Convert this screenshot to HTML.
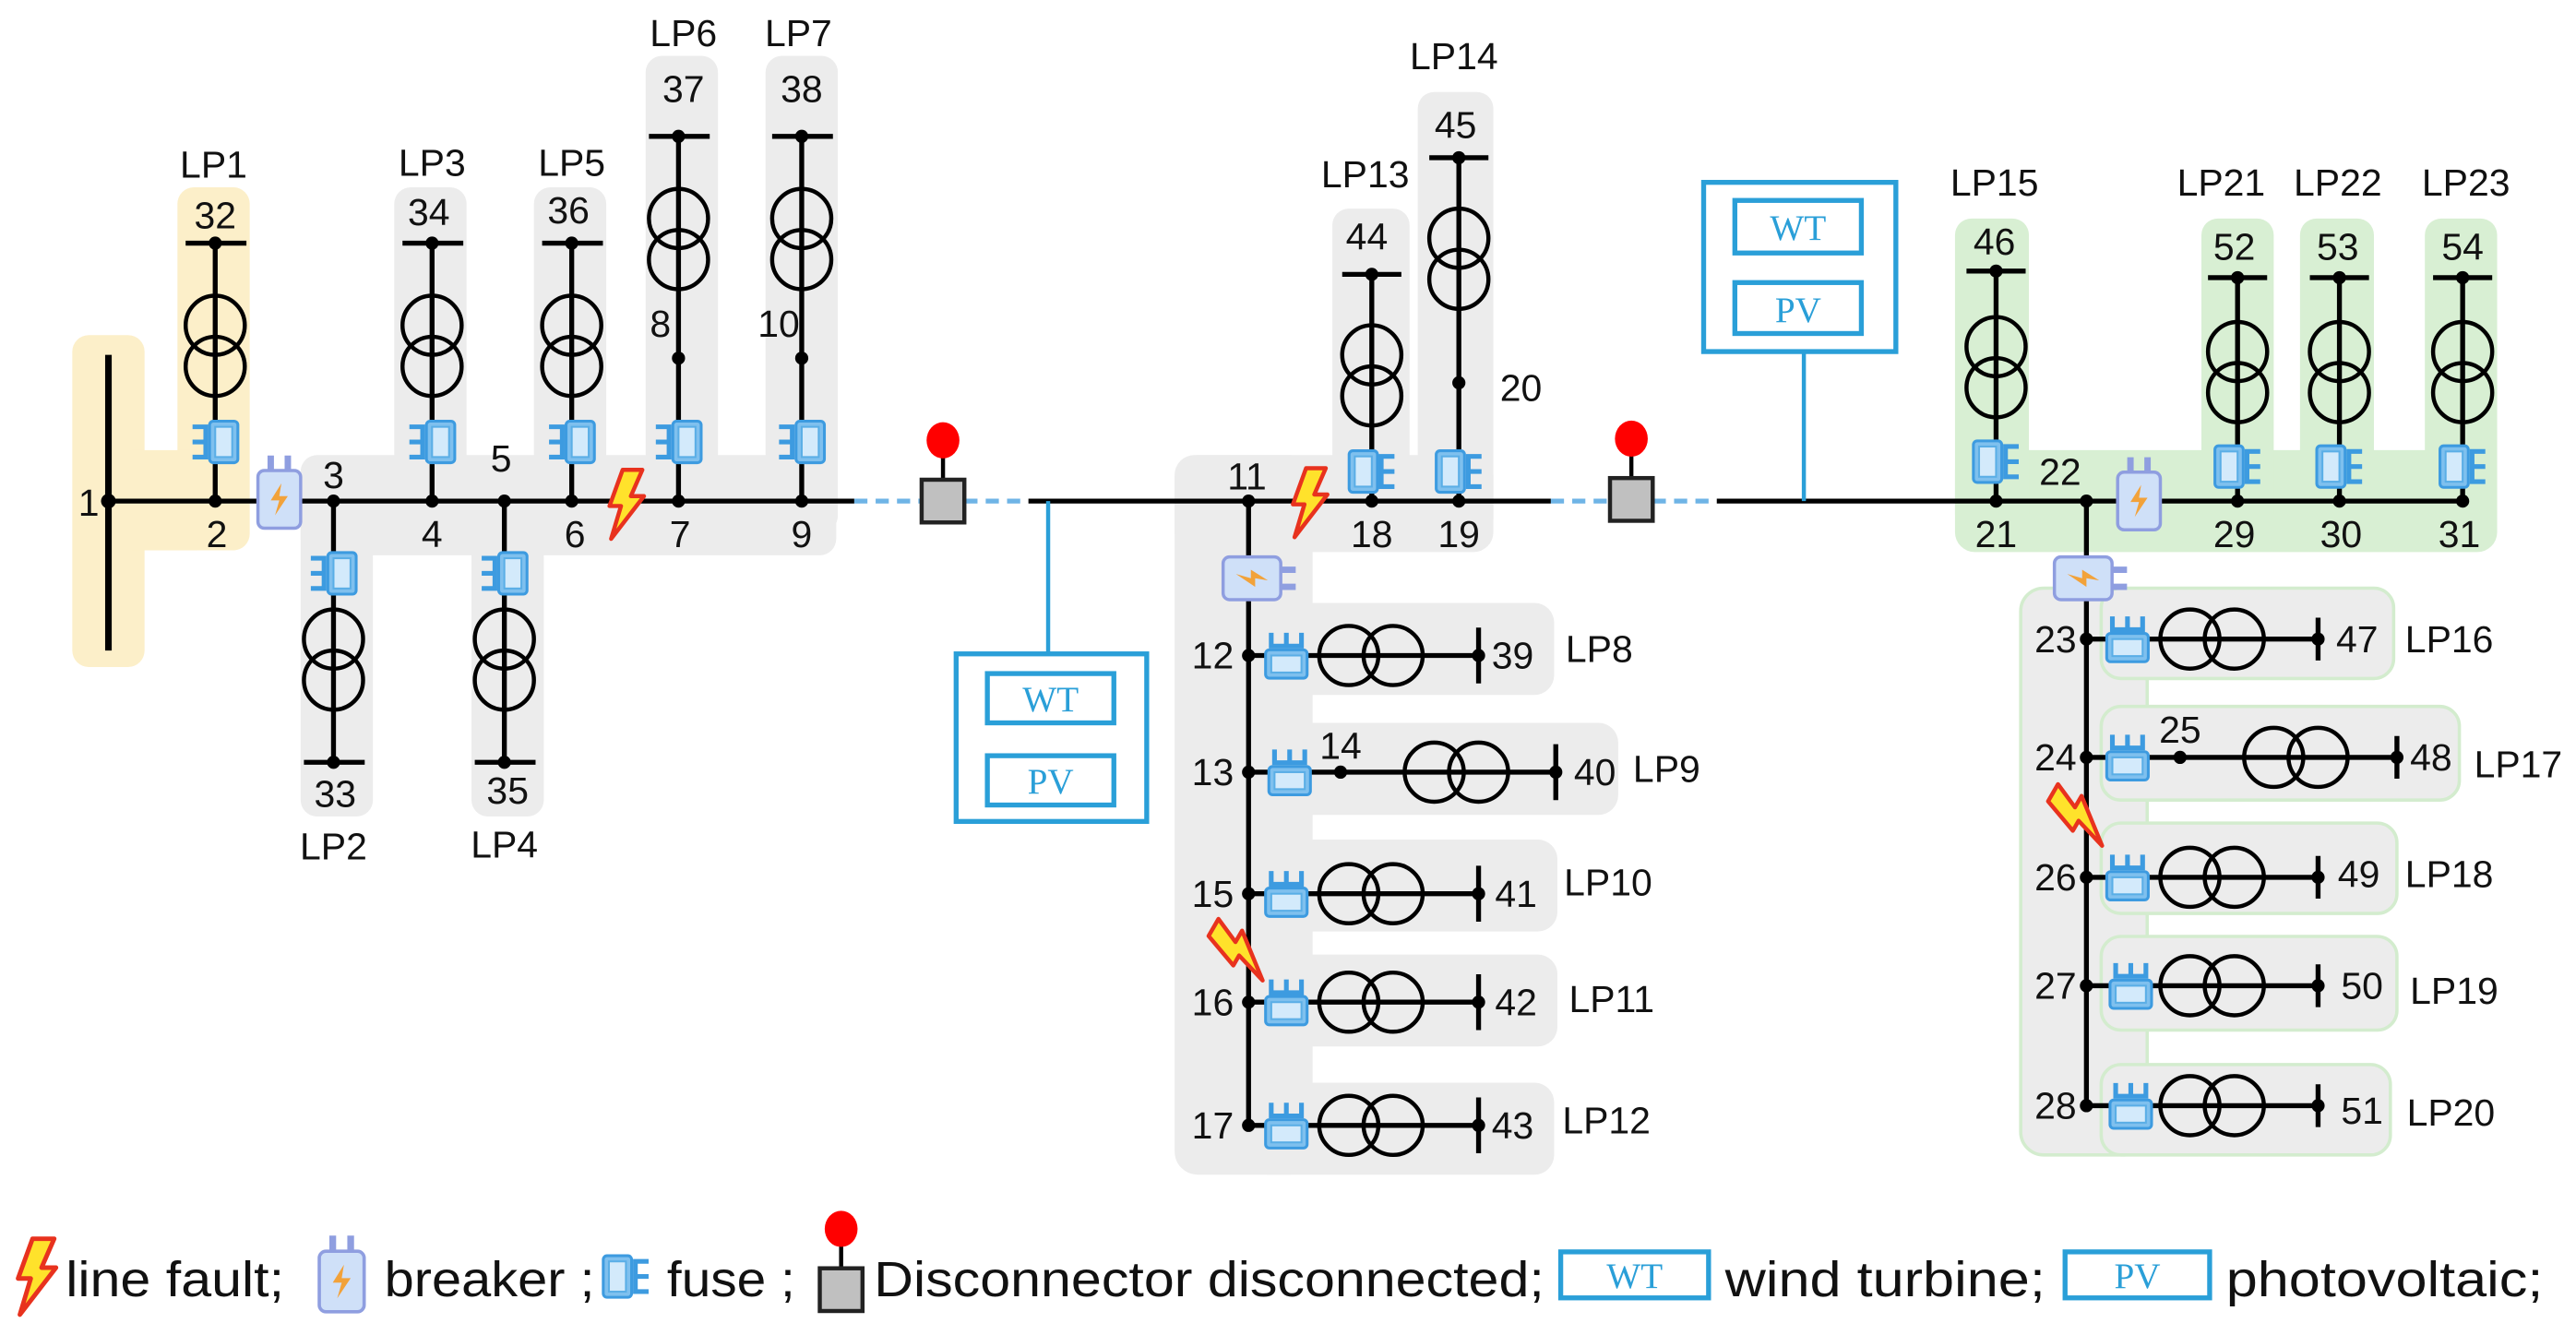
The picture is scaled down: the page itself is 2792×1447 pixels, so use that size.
<!DOCTYPE html>
<html><head><meta charset="utf-8"><style>
html,body{margin:0;padding:0;background:#fff;}
svg{display:block;}
text{font-family:"Liberation Sans",sans-serif;fill:#111;}
.n{font-size:23px;}
.lg{font-size:30px;}
.bl{fill:none;stroke:#2a9fd8;stroke-width:3;}
.wt{font-family:"Liberation Serif",serif;fill:#2a9fd8;font-size:22px;}
</style></head><body>
<svg width="2792" height="1447" viewBox="0 0 1568 812.6" preserveAspectRatio="none" xmlns="http://www.w3.org/2000/svg">
<defs>
<g id="tv" fill="none" stroke="#000" stroke-width="2.5"><circle cx="0" cy="0" r="18"/><circle cx="0" cy="25" r="18"/></g>
<g id="th" fill="none" stroke="#000" stroke-width="2.5"><circle cx="0" cy="0" r="18"/><circle cx="27" cy="0" r="18"/></g>
<g id="fu0"><rect x="-3" y="-11" width="15" height="22" rx="2" fill="#7fc0ee" stroke="#3d9be0" stroke-width="1.5"/><rect x="0" y="-8" width="9" height="16" fill="#d3eafb" stroke="#5aaee6" stroke-width="1"/><path d="M-12,-8 h7 v16 h-7 M-12,0 h7" fill="none" stroke="#3d9be0" stroke-width="2.5"/></g>
<g id="fu"><g transform="scale(1.15)"><use href="#fu0"/></g></g>
<g id="br0"><path d="M-4,-12 v-7 M4,-12 v-7" stroke="#8f9ee0" stroke-width="3"/><rect x="-10" y="-12" width="20" height="27" rx="3" fill="#cfe0f8" stroke="#8f9ee0" stroke-width="1.5"/><path d="M1,-6 L-4,2 L0,2 L-2,9 L4,0 L0,0 Z" fill="#f2a23a"/></g>
<g id="br"><g transform="scale(1.3)"><use href="#br0"/></g></g>
<g id="lt"><path d="M-2,-20 L10,-20 L3,-4 L11,-4 L-9,22 L-3,2 L-10,2 Z" fill="#ffe22b" stroke="#e8321e" stroke-width="2.5" stroke-linejoin="round"/></g>
<g id="dc"><line x1="0" y1="-28" x2="0" y2="-13" stroke="#000" stroke-width="2.5"/><ellipse cx="0" cy="-37" rx="10" ry="11" fill="#f00"/><rect x="-13" y="-13" width="26" height="26" fill="#c0c0c0" stroke="#222" stroke-width="2.5"/></g>
</defs>

<g fill="#fcefc9">
<rect x="44" y="204" width="44" height="202" rx="10"/>
<rect x="108" y="114" width="44" height="221" rx="10"/>
<rect x="80" y="274" width="40" height="61"/>
</g>
<g fill="#ececec">
<rect x="183" y="277" width="326" height="61" rx="10"/>
<rect x="240" y="114" width="44" height="200" rx="10"/>
<rect x="325" y="114" width="44" height="200" rx="10"/>
<rect x="393" y="34" width="44" height="290" rx="10"/>
<rect x="466" y="34" width="44" height="290" rx="10"/>
<rect x="183" y="300" width="44" height="197" rx="10"/>
<rect x="287" y="300" width="44" height="197" rx="10"/>
</g>
<g fill="#ececec">
<rect x="715" y="277" width="84" height="438" rx="14"/>
<rect x="715" y="277" width="194" height="59" rx="12"/>
<rect x="811" y="127" width="47" height="200" rx="10"/>
<rect x="863" y="56" width="46" height="270" rx="10"/>
<rect x="760" y="367" width="186" height="56" rx="12"/>
<rect x="760" y="440" width="225" height="56" rx="12"/>
<rect x="760" y="511" width="188" height="56" rx="12"/>
<rect x="760" y="581" width="188" height="56" rx="12"/>
<rect x="760" y="659" width="186" height="56" rx="12"/>
</g>
<g fill="#d8efd3">
<rect x="1190" y="274" width="330" height="62" rx="12"/>
<rect x="1190" y="133" width="45" height="190" rx="10"/>
<rect x="1340" y="133" width="44" height="190" rx="10"/>
<rect x="1400" y="133" width="45" height="190" rx="10"/>
<rect x="1476" y="133" width="44" height="190" rx="10"/>
</g>
<g fill="#ececec" stroke="#d3ecce" stroke-width="2">
<rect x="1230" y="358" width="77" height="345" rx="14"/>
<rect x="1279" y="358" width="178" height="55" rx="12"/>
<rect x="1279" y="430" width="218" height="57" rx="12"/>
<rect x="1279" y="501" width="180" height="55" rx="12"/>
<rect x="1279" y="570" width="180" height="57" rx="12"/>
<rect x="1279" y="648" width="176" height="55" rx="12"/>
</g>

<g stroke="#000" stroke-width="3" fill="none">
<path d="M66,305 H520 M626,305 H944 M1045,305 H1500"/>
<path d="M66,216 V396" stroke-width="4"/>
<path d="M131,148 V305 M113,148 H150 M263,148 V305 M245,148 H282 M348,148 V305 M330,148 H367"/>
<path d="M413,83 V305 M395,83 H432 M488,83 V305 M470,83 H507"/>
<path d="M203,305 V464 M185,464 H222 M307,305 V464 M289,464 H326"/>
<path d="M760,305 V685 M835,167 V305 M817,167 H853 M888,96 V305 M870,96 H906"/>
<path d="M760,399 H900 M900,382 V416 M760,470 H947 M947,453 V487 M760,544 H900 M900,527 V561 M760,610 H900 M900,593 V627 M760,685 H900 M900,668 V702"/>
<path d="M1215,165 V305 M1197,165 H1233 M1362,169 V305 M1344,169 H1380 M1424,169 V305 M1406,169 H1442 M1499,169 V305 M1481,169 H1517"/>
<path d="M1270,305 V673 M1270,389 H1411 M1411,376 V402 M1270,461 H1459 M1459,448 V474 M1270,534 H1411 M1411,521 V547 M1270,600 H1411 M1411,587 V613 M1270,673 H1411 M1411,660 V686"/>
</g>
<g stroke="#6fb4e6" stroke-width="3" stroke-dasharray="8,5">
<path d="M520,305 H561 M587,305 H626 M944,305 H979 M1006,305 H1045"/>
</g>
<path d="M638,305 V398 M1098,214 V305" stroke="#2a9fd8" stroke-width="2.5"/>

<use href="#tv" x="131" y="198"/><use href="#tv" x="263" y="198"/><use href="#tv" x="348" y="198"/>
<use href="#tv" x="413" y="133"/><use href="#tv" x="488" y="133"/>
<use href="#tv" x="203" y="389"/><use href="#tv" x="307" y="389"/>
<use href="#tv" x="835" y="216"/><use href="#tv" x="888" y="145"/>
<use href="#tv" x="1215" y="211"/><use href="#tv" x="1362" y="214"/><use href="#tv" x="1424" y="214"/><use href="#tv" x="1499" y="214"/>
<use href="#th" x="821" y="399"/><use href="#th" x="873" y="470"/><use href="#th" x="821" y="544"/><use href="#th" x="821" y="610"/><use href="#th" x="821" y="685"/>
<use href="#th" x="1333" y="389"/><use href="#th" x="1384" y="461"/><use href="#th" x="1333" y="534"/><use href="#th" x="1333" y="600"/><use href="#th" x="1333" y="673"/>

<use href="#fu" x="131" y="269"/><use href="#fu" x="263" y="269"/><use href="#fu" x="348" y="269"/><use href="#fu" x="413" y="269"/><use href="#fu" x="488" y="269"/>
<use href="#fu" x="203" y="349"/><use href="#fu" x="307" y="349"/>
<g transform="translate(835,287) scale(-1,1)"><use href="#fu"/></g>
<g transform="translate(888,287) scale(-1,1)"><use href="#fu"/></g>
<g transform="translate(1215,281) scale(-1,1)"><use href="#fu"/></g>
<g transform="translate(1362,284) scale(-1,1)"><use href="#fu"/></g>
<g transform="translate(1424,284) scale(-1,1)"><use href="#fu"/></g>
<g transform="translate(1499,284) scale(-1,1)"><use href="#fu"/></g>
<g transform="translate(783,399) rotate(90)"><use href="#fu"/></g>
<g transform="translate(785,470) rotate(90)"><use href="#fu"/></g>
<g transform="translate(783,544) rotate(90)"><use href="#fu"/></g>
<g transform="translate(783,610) rotate(90)"><use href="#fu"/></g>
<g transform="translate(783,685) rotate(90)"><use href="#fu"/></g>
<g transform="translate(1295,389) rotate(90)"><use href="#fu"/></g>
<g transform="translate(1295,461) rotate(90)"><use href="#fu"/></g>
<g transform="translate(1295,534) rotate(90)"><use href="#fu"/></g>
<g transform="translate(1297,600) rotate(90)"><use href="#fu"/></g>
<g transform="translate(1297,673) rotate(90)"><use href="#fu"/></g>

<g fill="#000">
<circle cx="66" cy="305" r="4.5"/><circle cx="131" cy="305" r="4"/><circle cx="203" cy="305" r="4"/><circle cx="263" cy="305" r="4"/><circle cx="307" cy="305" r="4"/><circle cx="348" cy="305" r="4"/><circle cx="413" cy="305" r="4"/><circle cx="488" cy="305" r="4"/>
<circle cx="131" cy="148" r="4"/><circle cx="263" cy="148" r="4"/><circle cx="348" cy="148" r="4"/><circle cx="413" cy="83" r="4"/><circle cx="488" cy="83" r="4"/><circle cx="413" cy="218" r="4"/><circle cx="488" cy="218" r="4"/>
<circle cx="203" cy="464" r="4"/><circle cx="307" cy="464" r="4"/>
<circle cx="760" cy="305" r="4"/><circle cx="835" cy="305" r="4"/><circle cx="888" cy="305" r="4"/><circle cx="835" cy="167" r="4"/><circle cx="888" cy="96" r="4"/><circle cx="888" cy="233" r="4"/>
<circle cx="760" cy="399" r="4"/><circle cx="760" cy="470" r="4"/><circle cx="760" cy="544" r="4"/><circle cx="760" cy="610" r="4"/><circle cx="760" cy="685" r="4"/>
<circle cx="900" cy="399" r="4"/><circle cx="947" cy="470" r="4"/><circle cx="816" cy="470" r="4"/><circle cx="900" cy="544" r="4"/><circle cx="900" cy="610" r="4"/><circle cx="900" cy="685" r="4"/>
<circle cx="1215" cy="305" r="4"/><circle cx="1270" cy="305" r="4"/><circle cx="1362" cy="305" r="4"/><circle cx="1424" cy="305" r="4"/><circle cx="1499" cy="305" r="4"/>
<circle cx="1215" cy="165" r="4"/><circle cx="1362" cy="169" r="4"/><circle cx="1424" cy="169" r="4"/><circle cx="1499" cy="169" r="4"/>
<circle cx="1270" cy="389" r="4"/><circle cx="1270" cy="461" r="4"/><circle cx="1270" cy="534" r="4"/><circle cx="1270" cy="600" r="4"/><circle cx="1270" cy="673" r="4"/>
<circle cx="1411" cy="389" r="4"/><circle cx="1459" cy="461" r="4"/><circle cx="1327" cy="461" r="4"/><circle cx="1411" cy="534" r="4"/><circle cx="1411" cy="600" r="4"/><circle cx="1411" cy="673" r="4"/>
</g>

<use href="#br" x="170" y="302"/>
<use href="#br" x="1302" y="303"/>
<g transform="translate(764,352) rotate(90)"><use href="#br"/></g>
<g transform="translate(1270,352) rotate(90)"><use href="#br"/></g>
<use href="#lt" x="381" y="306"/>
<use href="#lt" x="797" y="305"/>
<g transform="translate(754,578) rotate(-60)"><use href="#lt"/></g>
<g transform="translate(1265,496) rotate(-60)"><use href="#lt"/></g>
<use href="#dc" x="574" y="305"/>
<use href="#dc" x="993" y="304"/>

<rect x="582" y="398" width="116" height="102" fill="#fff" class="bl"/>
<rect x="601" y="410" width="77" height="30" class="bl"/><text x="639.5" y="433" class="wt" text-anchor="middle">WT</text>
<rect x="601" y="460" width="77" height="30" class="bl"/><text x="639.5" y="483" class="wt" text-anchor="middle">PV</text>
<rect x="1037" y="111" width="117" height="103" fill="#fff" class="bl"/>
<rect x="1056" y="122" width="77" height="32" class="bl"/><text x="1094.5" y="146" class="wt" text-anchor="middle">WT</text>
<rect x="1056" y="172" width="77" height="31" class="bl"/><text x="1094.5" y="196" class="wt" text-anchor="middle">PV</text>

<g class="n" text-anchor="middle">
<text x="54" y="314">1</text><text x="132" y="333">2</text><text x="203" y="297">3</text><text x="263" y="333">4</text><text x="305" y="287">5</text><text x="350" y="333">6</text><text x="414" y="333">7</text><text x="488" y="333">9</text>
<text x="402" y="205">8</text><text x="474" y="205">10</text>
<text x="131" y="139">32</text><text x="261" y="137">34</text><text x="346" y="136">36</text><text x="416" y="62">37</text><text x="488" y="62">38</text>
<text x="130" y="108">LP1</text><text x="263" y="107">LP3</text><text x="348" y="107">LP5</text><text x="416" y="28">LP6</text><text x="486" y="28">LP7</text>
<text x="204" y="491">33</text><text x="309" y="489">35</text><text x="203" y="523">LP2</text><text x="307" y="522">LP4</text>
<text x="759" y="298">11</text><text x="835" y="333">18</text><text x="888" y="333">19</text>
<text x="832" y="152">44</text><text x="886" y="84">45</text><text x="831" y="114">LP13</text><text x="885" y="42">LP14</text>
<text x="816" y="462">14</text>
<text x="1215" y="333">21</text><text x="1254" y="295">22</text><text x="1360" y="333">29</text><text x="1425" y="333">30</text><text x="1497" y="333">31</text>
<text x="1214" y="155">46</text><text x="1360" y="158">52</text><text x="1423" y="158">53</text><text x="1499" y="158">54</text>
<text x="1214" y="119">LP15</text><text x="1352" y="119">LP21</text><text x="1423" y="119">LP22</text><text x="1501" y="119">LP23</text>
<text x="1327" y="452">25</text>
</g>
<g class="n">
<text x="913" y="244">20</text>
<text x="751" y="407" text-anchor="end">12</text><text x="751" y="478" text-anchor="end">13</text><text x="751" y="552" text-anchor="end">15</text><text x="751" y="618" text-anchor="end">16</text><text x="751" y="693" text-anchor="end">17</text>
<text x="908" y="407">39</text><text x="958" y="478">40</text><text x="910" y="552">41</text><text x="910" y="618">42</text><text x="908" y="693">43</text>
<text x="953" y="403">LP8</text><text x="994" y="476">LP9</text><text x="952" y="545">LP10</text><text x="955" y="616">LP11</text><text x="951" y="690">LP12</text>
<text x="1264" y="397" text-anchor="end">23</text><text x="1264" y="469" text-anchor="end">24</text><text x="1264" y="542" text-anchor="end">26</text><text x="1264" y="608" text-anchor="end">27</text><text x="1264" y="681" text-anchor="end">28</text>
<text x="1422" y="397">47</text><text x="1467" y="469">48</text><text x="1423" y="540">49</text><text x="1425" y="608">50</text><text x="1425" y="684">51</text>
<text x="1464" y="397">LP16</text><text x="1506" y="473">LP17</text><text x="1464" y="540">LP18</text><text x="1467" y="611">LP19</text><text x="1465" y="685">LP20</text>
</g>

<g transform="translate(22,776) scale(1.1)"><use href="#lt"/></g>
<text x="40" y="789" class="lg" textLength="133" lengthAdjust="spacingAndGlyphs">line fault;</text>
<g transform="translate(208,778) scale(1.05)"><use href="#br"/></g>
<text x="234" y="789" class="lg" textLength="128" lengthAdjust="spacingAndGlyphs">breaker ;</text>
<g transform="translate(381,777) scale(-1,1)"><use href="#fu"/></g>
<text x="406" y="789" class="lg" textLength="78" lengthAdjust="spacingAndGlyphs">fuse ;</text>
<use href="#dc" x="512" y="785"/>
<text x="532" y="789" class="lg" textLength="408" lengthAdjust="spacingAndGlyphs">Disconnector disconnected;</text>
<rect x="950" y="762" width="90" height="28" class="bl"/><text x="995" y="784" class="wt" text-anchor="middle">WT</text>
<text x="1050" y="789" class="lg" textLength="195" lengthAdjust="spacingAndGlyphs">wind turbine;</text>
<rect x="1257" y="762" width="88" height="28" class="bl"/><text x="1301" y="784" class="wt" text-anchor="middle">PV</text>
<text x="1355" y="789" class="lg" textLength="193" lengthAdjust="spacingAndGlyphs">photovoltaic;</text>
</svg>
</body></html>
